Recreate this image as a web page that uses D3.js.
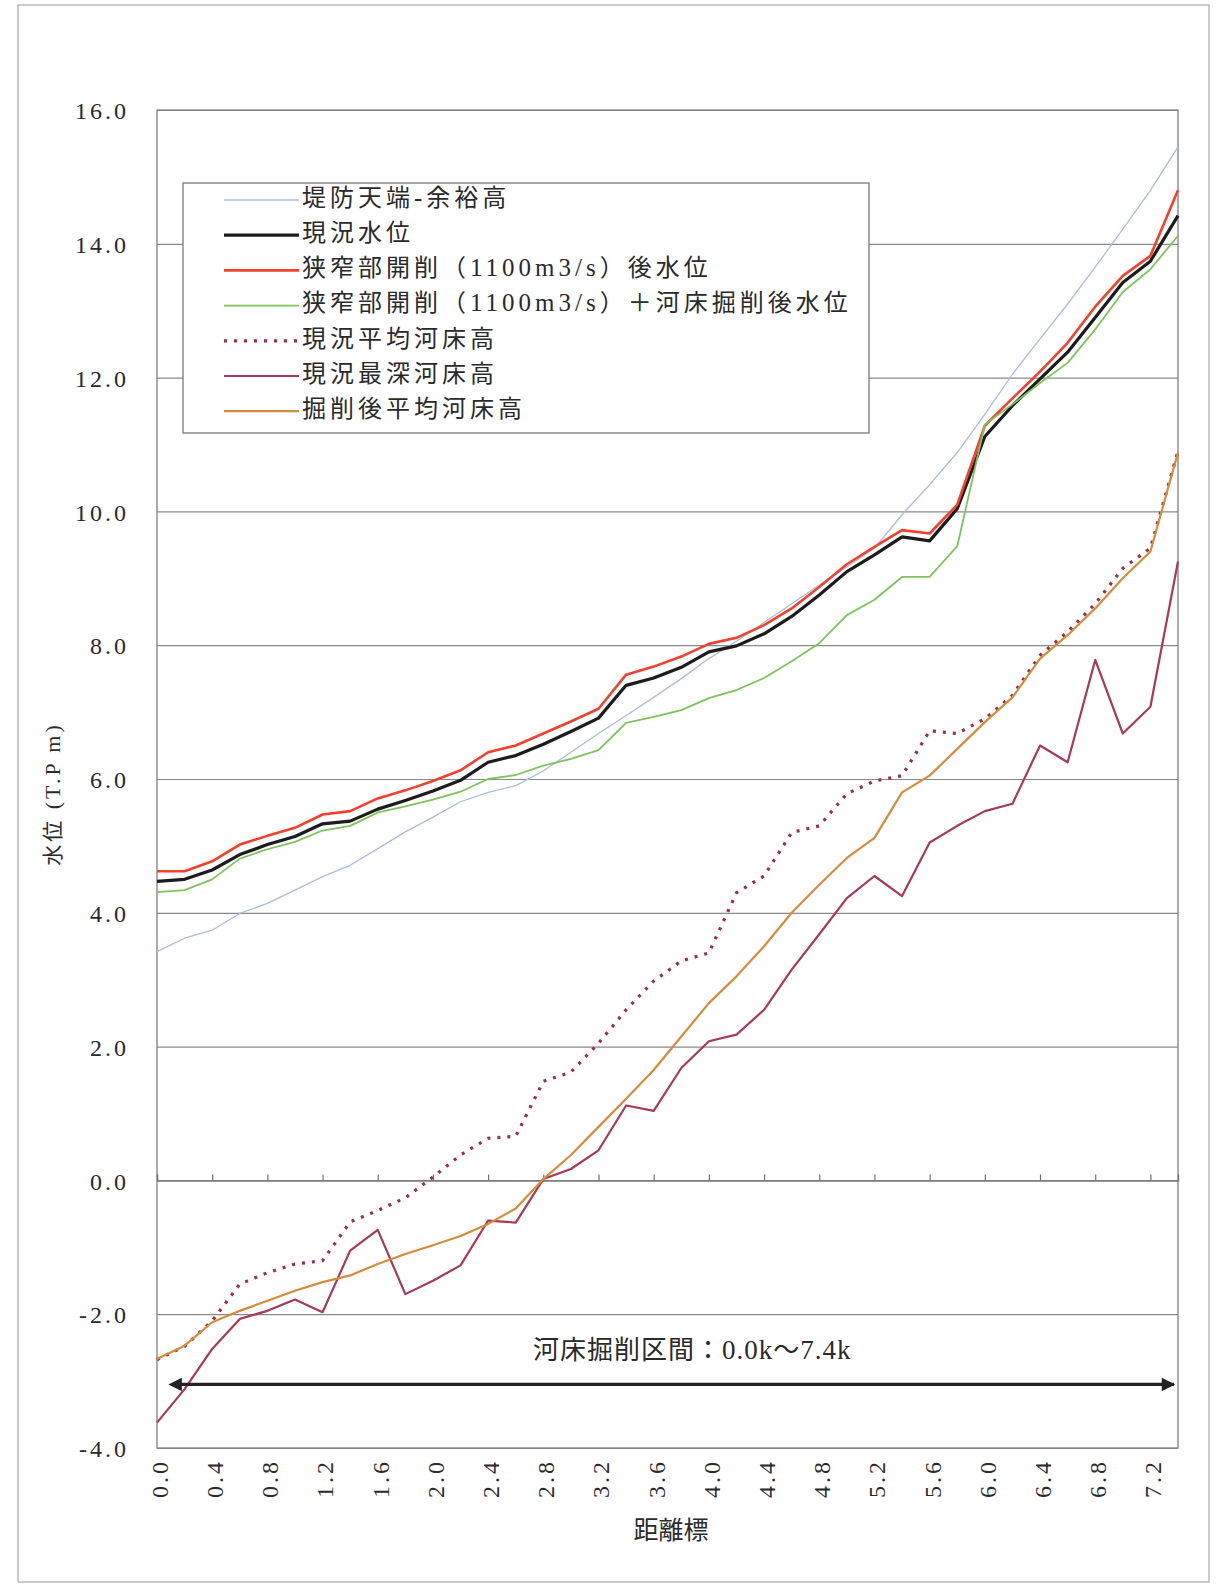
<!DOCTYPE html>
<html><head><meta charset="utf-8">
<script src="https://cdn.jsdelivr.net/npm/d3@7"></script>
<style>
html,body{margin:0;padding:0;background:#fff;}
svg{display:block;}
</style></head><body>
<svg id="chart" width="1223" height="1586"></svg>
<script>
// ---- data ----
const km = [0.0,0.2,0.4,0.6,0.8,1.0,1.2,1.4,1.6,1.8,2.0,2.2,2.4,2.6,2.8,3.0,3.2,3.4,3.6,3.8,
            4.0,4.2,4.4,4.6,4.8,5.0,5.2,5.4,5.6,5.8,6.0,6.2,6.4,6.6,6.8,7.0,7.2,7.4];
const xTickValues = [0.0,0.4,0.8,1.2,1.6,2.0,2.4,2.8,3.2,3.6,4.0,4.4,4.8,5.2,5.6,6.0,6.4,6.8,7.2];
const xTickLabels = ["0.0","0.4","0.8","1.2","1.6","2.0","2.4","2.8","3.2","3.6","4.0","4.4","4.8","5.2","5.6","6.0","6.4","6.8","7.2"];
const yTickValues = [-4,-2,0,2,4,6,8,10,12,14,16];
const yTickLabels = ["-4.0","-2.0","0.0","2.0","4.0","6.0","8.0","10.0","12.0","14.0","16.0"];

const seriesNames = ["堤防天端-余裕高","現況水位","狭窄部開削（1100m3/s）後水位","狭窄部開削（1100m3/s）＋河床掘削後水位","現況平均河床高","現況最深河床高","掘削後平均河床高"];

const levee = [3.42,3.62,3.74,3.99,4.14,4.34,4.54,4.71,4.96,5.21,5.43,5.66,5.80,5.90,6.12,6.40,6.68,6.95,7.22,7.50,
               7.80,8.06,8.34,8.62,8.90,9.17,9.45,9.95,10.40,10.88,11.45,12.05,12.58,13.10,13.65,14.22,14.80,15.45];
const wlNow = [4.47,4.50,4.64,4.87,5.02,5.14,5.33,5.37,5.55,5.68,5.82,5.98,6.25,6.35,6.52,6.71,6.91,7.40,7.51,7.67,
               7.90,7.99,8.17,8.43,8.75,9.10,9.35,9.62,9.56,10.04,11.12,11.58,11.98,12.38,12.90,13.42,13.74,14.42];
const wlWiden = [4.62,4.62,4.77,5.02,5.15,5.27,5.47,5.52,5.71,5.83,5.97,6.13,6.40,6.50,6.68,6.86,7.05,7.56,7.68,7.83,
                 8.02,8.11,8.30,8.55,8.87,9.21,9.47,9.72,9.67,10.10,11.28,11.69,12.09,12.52,13.06,13.52,13.82,14.80];
const wlWidenDredge = [4.31,4.34,4.50,4.81,4.95,5.06,5.23,5.30,5.50,5.59,5.69,5.81,6.00,6.06,6.20,6.30,6.43,6.84,6.93,7.03,
                       7.21,7.33,7.51,7.76,8.03,8.45,8.68,9.02,9.02,9.48,11.30,11.60,11.92,12.22,12.72,13.28,13.62,14.12];
const bedMeanNow = [-2.68,-2.48,-2.10,-1.55,-1.38,-1.25,-1.20,-0.62,-0.45,-0.26,0.05,0.38,0.63,0.66,1.48,1.62,2.05,2.55,2.98,3.28,
                    3.40,4.30,4.55,5.20,5.30,5.78,5.97,6.05,6.72,6.68,6.90,7.25,7.85,8.20,8.62,9.15,9.45,10.90];
const bedDeepNow = [-3.62,-3.12,-2.52,-2.07,-1.95,-1.78,-1.97,-1.05,-0.74,-1.70,-1.50,-1.27,-0.60,-0.63,0.02,0.17,0.45,1.12,1.04,1.68,
                    2.08,2.18,2.55,3.15,3.68,4.22,4.55,4.25,5.05,5.30,5.52,5.63,6.50,6.25,7.78,6.68,7.08,9.25];
const bedMeanAfter = [-2.67,-2.47,-2.12,-1.95,-1.80,-1.65,-1.52,-1.42,-1.25,-1.10,-0.97,-0.83,-0.65,-0.42,0.02,0.38,0.80,1.22,1.65,2.15,
                      2.65,3.05,3.50,4.00,4.42,4.82,5.12,5.80,6.05,6.45,6.85,7.22,7.80,8.15,8.55,9.00,9.40,10.88];

const annotationText = "河床掘削区間：0.0k～7.4k";
const annotationRange = [0.17, 7.37];   // km span of the arrow
const annotationLevel = -3.05;           // T.P m level of the arrow
const annotationTextPos = [3.88, -2.58]; // km, T.P m

// ---- styles ----
const styles = [
  {color:"#a9bddc", width:1.3, dash:null},
  {color:"#1c1c1c", width:3.2, dash:null},
  {color:"#f2412c", width:2.6, dash:null},
  {color:"#7ec35c", width:1.8, dash:null},
  {color:"#9c2d4c", width:3.2, dash:"3,7"},
  {color:"#a63a58", width:2.2, dash:null},
  {color:"#d38d3c", width:2.2, dash:null}
];
const seriesData = [levee, wlNow, wlWiden, wlWidenDredge, bedMeanNow, bedDeepNow, bedMeanAfter];

const SERIF = "'Liberation Serif', 'DejaVu Serif', serif";
const CJK = "'Noto Sans CJK JP', sans-serif";

const svg = d3.select("#chart");
const L = 157, R = 1178, T = 110, B = 1448;
const x = d3.scaleLinear().domain([0, 7.4]).range([L, R]);
const y = d3.scaleLinear().domain([-4, 16]).range([B, T]);

// write text with ASCII runs in a serif face, CJK runs in the CJK face
function mixedText(sel, str, size){
  const runs = str.match(/[\x20-\x7e]+|[^\x20-\x7e]+/g) || [];
  runs.forEach(r=>{
    const ascii = /^[\x20-\x7e]+$/.test(r);
    sel.append("tspan").attr("font-family", ascii ? SERIF : CJK)
      .attr("font-size", ascii ? size+1 : size).text(r);
  });
}

// outer page frame
svg.append("rect").attr("x",18).attr("y",5).attr("width",1191).attr("height",1577)
  .attr("fill","none").attr("stroke","#a8a8a8").attr("stroke-width",1.2);

// gridlines + y labels
const yAxis = d3.axisLeft(y).tickValues(yTickValues)
  .tickFormat((d,i)=>yTickLabels[i]).tickSize(-(R-L)).tickPadding(28);
const gy = svg.append("g").attr("transform",`translate(${L},0)`).call(yAxis);
gy.select(".domain").remove();
gy.selectAll(".tick line").attr("stroke","#8a8a8a").attr("stroke-width",1.2);
gy.selectAll(".tick text").attr("font-family",SERIF)
  .attr("font-size",24).attr("fill","#2a2a2a").attr("letter-spacing","3px").attr("dy","0.36em");

// plot border
svg.append("rect").attr("x",L).attr("y",T).attr("width",R-L).attr("height",B-T)
  .attr("fill","none").attr("stroke","#808080").attr("stroke-width",1.3);

// category axis at y=0 with upward tick marks
const xAxisZero = d3.axisTop(x).tickValues(xTickValues).tickSize(6).tickFormat("");
const gz = svg.append("g").attr("transform",`translate(0,${y(0)})`).call(xAxisZero);
gz.select(".domain").attr("stroke","#707070").attr("stroke-width",1.3);
gz.selectAll(".tick line").attr("stroke","#707070").attr("stroke-width",1.2);

// x labels at bottom (rotated)
const xAxisB = d3.axisBottom(x).tickValues(xTickValues).tickFormat((d,i)=>xTickLabels[i]).tickSize(0);
const gx = svg.append("g").attr("transform",`translate(0,${B})`).call(xAxisB);
gx.select(".domain").remove();
gx.selectAll(".tick text")
  .attr("font-family",SERIF)
  .attr("font-size",24).attr("fill","#2a2a2a").attr("letter-spacing","3px")
  .attr("text-anchor","end").attr("dy","0.35em").attr("y",0)
  .attr("transform","translate(2,11) rotate(-90)");

// series lines
const line = d3.line().x((d,i)=>x(km[i])).y(d=>y(d));
seriesData.forEach((s,i)=>{
  const st = styles[i];
  const p = svg.append("path").datum(s).attr("d",line)
    .attr("fill","none").attr("stroke",st.color).attr("stroke-width",st.width)
    .attr("stroke-linejoin","round");
  if (st.dash) p.attr("stroke-dasharray",st.dash);
});

// legend
const lg = svg.append("g");
lg.append("rect").attr("x",183).attr("y",183).attr("width",686).attr("height",250)
  .attr("fill","#fff").attr("stroke","#7a7a7a").attr("stroke-width",1.3);
seriesNames.forEach((n,i)=>{
  const yy = 200 + i*35.2;
  const st = styles[i];
  const l = lg.append("line").attr("x1",224).attr("x2",299).attr("y1",yy).attr("y2",yy)
    .attr("stroke",st.color).attr("stroke-width",st.width);
  if (st.dash) l.attr("stroke-dasharray",st.dash);
  const t = lg.append("text").attr("x",302).attr("y",yy).attr("dy","0.36em")
    .attr("letter-spacing","4px").attr("fill","#2a2a2a");
  mixedText(t, n, 24);
});

// axis titles
const yt = svg.append("text").attr("transform",`translate(54,${(T+B)/2+15}) rotate(-90)`)
  .attr("text-anchor","middle").attr("dy","0.35em")
  .attr("letter-spacing","3px").attr("fill","#2a2a2a");
mixedText(yt, "水位 (T.P m)", 21);
svg.append("text").attr("x",671).attr("y",1530).attr("text-anchor","middle").attr("dy","0.35em")
  .attr("font-family",CJK).attr("font-size",25)
  .attr("fill","#2a2a2a").text("距離標");

// annotation: double-headed arrow + text
const defs = svg.append("defs");
["s","e"].forEach(k=>{
  defs.append("marker").attr("id","arr"+k).attr("viewBox","0 0 10 10")
    .attr("refX",k==="e"?9:1).attr("refY",5).attr("markerWidth",5.2).attr("markerHeight",4.2)
    .attr("markerUnits","strokeWidth").attr("orient","auto-start-reverse")
    .append("path").attr("d","M0,0 L10,5 L0,10 z").attr("fill","#222");
});
svg.append("line").attr("x1",x(annotationRange[0])).attr("x2",x(annotationRange[1]))
  .attr("y1",y(annotationLevel)).attr("y2",y(annotationLevel))
  .attr("stroke","#222").attr("stroke-width",3.2)
  .attr("marker-start","url(#arrs)").attr("marker-end","url(#arre)");
const at = svg.append("text").attr("x",x(annotationTextPos[0])).attr("y",y(annotationTextPos[1]))
  .attr("text-anchor","middle").attr("dy","0.35em").attr("fill","#2a2a2a")
  .attr("letter-spacing","1px");
mixedText(at, annotationText, 26);
</script>
</body></html>
